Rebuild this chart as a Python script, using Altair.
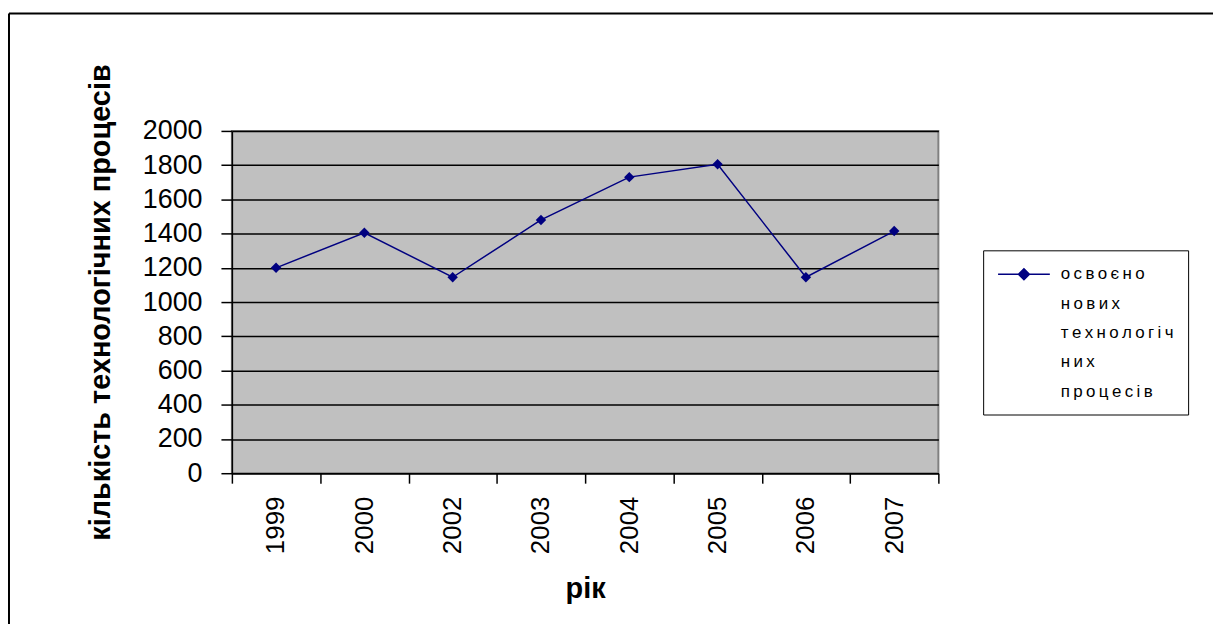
import altair as alt
import pandas as pd

# ---- data ----
years = ["1999", "2000", "2002", "2003", "2004", "2005", "2006", "2007"]
values = [1200, 1405, 1145, 1480, 1730, 1805, 1145, 1415]
# legend text of the single series, wrapped as in the original
legend_lines = ["освоєно", "нових", "технологіч", "них", "процесів"]
y_ticks = [0, 200, 400, 600, 800, 1000, 1200, 1400, 1600, 1800, 2000]

df = pd.DataFrame({"year": years, "value": values, "series": [legend_lines[0]] * len(years)})

NAVY = "#000080"
FONT = "Liberation Sans"

# legend symbol: line with a (solid-looking) diamond in the middle, drawn only with strokes
# unit = 9 px (symbolSize 324); symbol centre sits at x=9px of the entry
_cx = 1.89
_rings = [0.61, 0.47, 0.33, 0.19, 0.06]
legend_symbol = "M-1,0L4.78,0" + "".join(
    f"M{_cx},{-r}L{_cx + r},0L{_cx},{r}L{_cx - r},0Z" for r in _rings
)
# the original legend font is letter-spaced: put a thin space between letters
legend_label_expr = "join(split(datum.label, ''), '\u2009')"

line = alt.Chart(df).mark_line(
    strokeWidth=1.5,
    point=alt.OverlayMarkDef(shape="diamond", size=110, filled=True, opacity=1),
).encode(
    x=alt.X(
        "year:N",
        sort=years,
        bandPosition=0.5,
        scale=alt.Scale(type="band", paddingInner=0, paddingOuter=0),
        axis=alt.Axis(
            title="рік",
            labelAngle=270,
            tickBand="extent",
            tickSize=10,
            tickWidth=1.5,
            tickColor="black",
            domainColor="black",
            domainWidth=1.5,
            labelFont=FONT,
            labelFontSize=26,
            labelColor="black",
            labelPadding=13,
            titleFont=FONT,
            titleFontSize=29,
            titleFontWeight="bold",
            titleColor="black",
            titlePadding=21,
            grid=False,
        ),
    ),
    y=alt.Y(
        "value:Q",
        scale=alt.Scale(domain=[0, 2000], nice=False),
        axis=alt.Axis(
            title="кількість технологічних процесів",
            values=y_ticks,
            format="d",
            tickSize=11,
            tickWidth=1.5,
            tickColor="black",
            domainColor="black",
            domainWidth=1.5,
            labelFont=FONT,
            labelFontSize=27,
            labelColor="black",
            labelPadding=19,
            grid=True,
            gridColor="black",
            gridWidth=1.5,
            gridOpacity=1,
            titleFont=FONT,
            titleFontSize=29,
            titleFontWeight="bold",
            titleColor="black",
            titlePadding=27,
        ),
    ),
    color=alt.Color(
        "series:N",
        scale=alt.Scale(
            domain=legend_lines,
            range=[NAVY, "transparent", "transparent", "transparent", "transparent"],
        ),
        sort=legend_lines,
        legend=alt.Legend(
            title=None,
            orient="none",
            legendX=755,
            legendY=120,
            fillColor="white",
            strokeColor="black",
            padding=14,
            rowPadding=10.5,
            symbolType=legend_symbol,
            symbolSize=324,
            symbolStrokeWidth=1.5,
            symbolFillColor="transparent",
            labelExpr=legend_label_expr,
            labelFont=FONT,
            labelFontSize=17,
            labelColor="black",
            labelBaseline="middle",
            labelLimit=0,
            labelOffset=44,
        ),
    ),
)

frame_data = pd.DataFrame({"k": [0]})
frame_top = alt.Chart(frame_data).mark_rule(color="black", strokeWidth=2).encode(
    x=alt.value(-224), x2=alt.value(1000), y=alt.value(-118)
)
frame_left = alt.Chart(frame_data).mark_rule(color="black", strokeWidth=2).encode(
    x=alt.value(-224), y=alt.value(-118), y2=alt.value(600)
)

chart = alt.layer(line, frame_top, frame_left).properties(
    width=710,
    height=344,
    autosize=alt.AutoSizeParams(type="none"),
    padding={"left": 225, "top": 122, "right": 276, "bottom": 150},
    background="white",
).configure_view(
    fill="#C0C0C0", stroke="#808080", strokeWidth=2
)

chart.save("out.html", embed_options={"renderer": "svg", "actions": False})
